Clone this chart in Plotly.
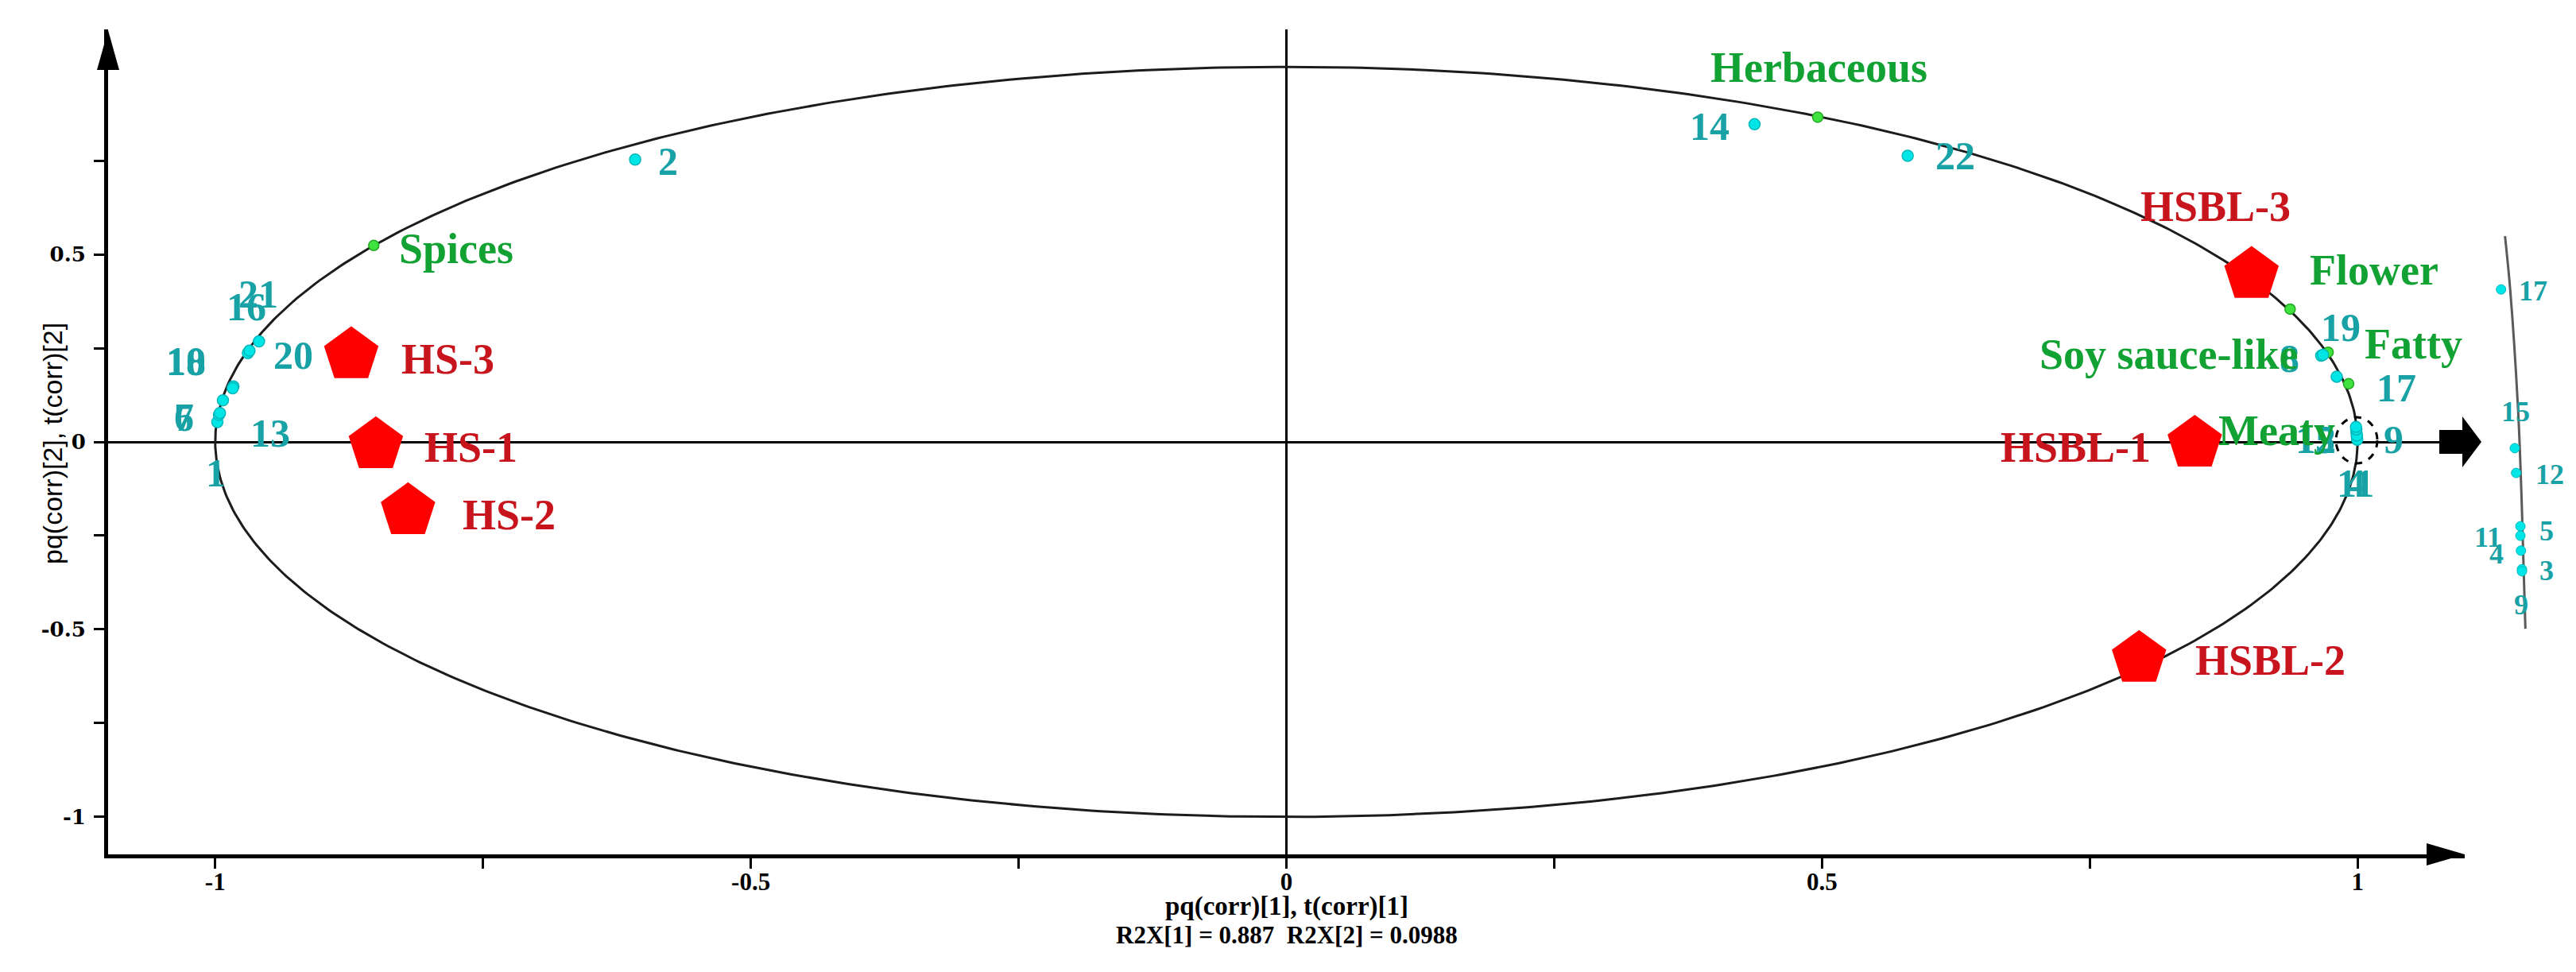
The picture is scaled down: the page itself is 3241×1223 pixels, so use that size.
import numpy as np
import plotly.graph_objects as go

# ---------------- data ----------------
# Variables (volatile compounds), loadings pq(corr)[1], pq(corr)[2]
var_ids = ["1", "2", "3", "4", "5", "6", "7", "8", "9", "10", "11",
           "12", "13", "14", "15", "16", "17", "18", "19", "20", "21", "22"]
var_x = [-0.998, -0.608, 0.9995, 0.9994, 0.9990, -0.9965, -0.9956, 0.966, 0.9996, -0.983, 0.9993,
         0.9988, -0.9928, 0.437, 0.9985, -0.9695, 0.9805, -0.9837, 0.9676, -0.968, -0.9591, 0.580]
var_y = [0.053, 0.753, 0.010, 0.014, 0.025, 0.072, 0.077, 0.230, 0.006, 0.148, 0.017,
         0.033, 0.111, 0.847, 0.040, 0.237, 0.174, 0.143, 0.232, 0.243, 0.268, 0.763]

# Sensory attributes
attr_names = ["Herbaceous", "Spices", "Flower", "Soy sauce-like", "Fatty", "Meaty"]
attr_x = [0.496, -0.852, 0.937, 0.9725, 0.9916, 0.9988]
attr_y = [0.866, 0.524, 0.354, 0.239, 0.155, 0.028]

# Samples (scores t(corr))
sample_names = ["HS-1", "HS-2", "HS-3", "HSBL-1", "HSBL-2", "HSBL-3"]
sample_x = [-0.850, -0.820, -0.873, 0.848, 0.796, 0.901]
sample_y = [-0.008, -0.184, 0.232, -0.004, -0.578, 0.446]

# Magnified inset of the dashed region (inset units)
inset_ids = ["17", "15", "12", "5", "11", "4", "3", "9"]
inset_x = [28.0, 41.2, 42.5, 46.6, 46.6, 47.1, 48.1, 48.1]
inset_y = [84.0, 45.6, 39.6, 26.7, 24.4, 20.8, 16.3, 15.8]
inset_curve_x = [31.8, 36.9, 44.5, 47.9, 51.4]
inset_curve_y = [96.9, 83.7, 54.2, 32.1, 1.9]

x_tick_vals = [-1, -0.75, -0.5, -0.25, 0, 0.25, 0.5, 0.75, 1]
x_tick_text = ["-1", "", "-0.5", "", "0", "", "0.5", "", "1"]
y_tick_vals = [-1, -0.75, -0.5, -0.25, 0, 0.25, 0.5, 0.75]
y_tick_text = ["-1", "", "-0.5", "", "0", "", "0.5", ""]

x_title = "pq(corr)[1], t(corr)[1]"
r2x_text = "R2X[1] = 0.887\u00a0\u00a0R2X[2] = 0.0988"
y_title = "pq(corr)[2], t(corr)[2]"

# ---------------- style / layout ----------------
W, H = 3241, 1223
ML, MT, MR, MB = 128, 29, 0, 156
PW, PH = W - ML - MR, H - MT - MB
MAIN_W = 2965
XR = [-1.1, 1.1]
YR = [-1.1, 1.1]

CYAN = "#00E6E6"
CYAN_EDGE = "#00B8BC"
TEAL = "#18A2A6"
GREEN_DOT = "#3FE23F"
GREEN_EDGE = "#22A822"
GREEN_TXT = "#12A234"
RED = "#FF0000"
RED_TXT = "#C8141C"
SERIF = "Liberation Serif"

var_shift = {"1": (-2, -64), "2": (41, -2), "4": (-2, -59), "6": (-44, -3), "7": (-45, -5),
             "8": (-40, -4), "9": (46, 0), "10": (-60, 32), "11": (-2, -60), "12": (-51, -13),
             "13": (60, -41), "14": (-56, -3), "15": (-51, -16), "16": (-2, 58), "17": (75, -14),
             "18": (-59, 34), "19": (22, 35), "20": (55, -6), "21": (-1, 60), "22": (60, 0)}
attr_shift = {"Herbaceous": (2, 62), "Spices": (104, -4), "Flower": (106, 49),
              "Soy sauce-like": (-200, -3), "Fatty": (82, 50), "Meaty": (-100, 1)}
sample_shift = {"HS-1": (120, -3), "HS-2": (127, -5), "HS-3": (122, -5),
                "HSBL-1": (-150, -5), "HSBL-2": (165, -2), "HSBL-3": (-45, 86)}
inset_shift = {"17": (40, -2), "15": (1, 46), "12": (42, -2), "5": (33, -6),
               "11": (-41, -2), "4": (-31, -4), "3": (31, -2), "9": (-1, -42)}


def pxx(xp):
    return (xp - ML) / PW


def pxy(yp):
    return (MT + PH - yp) / PH


fig = go.Figure()

# correlation circle (radius 1)
t = np.linspace(0, 2 * np.pi, 721)
fig.add_trace(go.Scatter(x=np.cos(t), y=np.sin(t), mode="lines",
                         line=dict(color="#1c1c1c", width=3), hoverinfo="skip", showlegend=False))

fig.add_trace(go.Scatter(x=attr_x, y=attr_y, mode="markers",
                         marker=dict(size=13, color=GREEN_DOT, line=dict(color=GREEN_EDGE, width=1.5)),
                         showlegend=False))
fig.add_trace(go.Scatter(x=var_x, y=var_y, mode="markers",
                         marker=dict(size=14, color=CYAN, line=dict(color=CYAN_EDGE, width=1.5)),
                         showlegend=False))
fig.add_trace(go.Scatter(x=sample_x, y=sample_y, mode="markers",
                         marker=dict(size=72, symbol="pentagon", color=RED, line=dict(width=0)),
                         showlegend=False))

# inset
fig.add_trace(go.Scatter(x=inset_curve_x, y=inset_curve_y, mode="lines", xaxis="x2", yaxis="y2",
                         line=dict(color="#5a5a5a", width=3, shape="spline"), showlegend=False))
fig.add_trace(go.Scatter(x=inset_x, y=inset_y, mode="markers", xaxis="x2", yaxis="y2",
                         marker=dict(size=12, color=CYAN, line=dict(color=CYAN_EDGE, width=1)),
                         showlegend=False))

ann = []
num_font = dict(family=SERIF, size=50, weight="bold")
word_font = dict(family=SERIF, size=54, weight="bold")
for i, name in enumerate(var_ids):
    if name in var_shift:
        dx, dy = var_shift[name]
        ann.append(dict(x=var_x[i], y=var_y[i], xref="x", yref="y", text=name, showarrow=False,
                        xshift=dx, yshift=dy, font=dict(num_font, color=TEAL)))
for i, name in enumerate(attr_names):
    dx, dy = attr_shift[name]
    ann.append(dict(x=attr_x[i], y=attr_y[i], xref="x", yref="y", text=name, showarrow=False,
                    xshift=dx, yshift=dy, font=dict(word_font, color=GREEN_TXT)))
for i, name in enumerate(sample_names):
    dx, dy = sample_shift[name]
    ann.append(dict(x=sample_x[i], y=sample_y[i], xref="x", yref="y", text=name, showarrow=False,
                    xshift=dx, yshift=dy, font=dict(word_font, color=RED_TXT)))
for i, name in enumerate(inset_ids):
    dx, dy = inset_shift[name]
    ann.append(dict(x=inset_x[i], y=inset_y[i], xref="x2", yref="y2", text=name, showarrow=False,
                    xshift=dx, yshift=dy, font=dict(family=SERIF, size=36, weight="bold", color=TEAL)))

# axis titles
ann.append(dict(x=0, y=pxy(1153), xref="x", yref="paper", text=x_title, showarrow=False,
                font=dict(family=SERIF, size=33, weight="bold", color="black")))
ann.append(dict(x=0, y=pxy(1188), xref="x", yref="paper", text=r2x_text, showarrow=False,
                font=dict(family=SERIF, size=31, weight="bold", color="black")))
ann.append(dict(x=pxx(37), y=pxy(550), xref="paper", yref="paper", text=y_title, showarrow=False,
                textangle=-90, font=dict(family="Liberation Sans", size=34, color="black")))

zero_y = MT + PH * (YR[1] - 0) / (YR[1] - YR[0])
x_end = ML + MAIN_W
shapes = [
    # dashed highlight
    dict(type="circle", xref="x", yref="y", x0=0.9991 - 0.0193, x1=0.9991 + 0.0193,
         y0=0.0042 - 0.0614, y1=0.0042 + 0.0614, line=dict(color="black", width=3, dash="dash")),
    # y axis arrowhead
    dict(type="path", xref="paper", yref="paper", fillcolor="black", line=dict(width=0),
         path=f"M {pxx(ML-14)} {pxy(80)} L {pxx(ML)} {pxy(30)} L {pxx(ML+14)} {pxy(80)} Z"),
    # x axis arrowhead
    dict(type="path", xref="paper", yref="paper", fillcolor="black", line=dict(width=0),
         path=f"M {pxx(x_end-48)} {pxy(MT+PH-14)} L {pxx(x_end)} {pxy(MT+PH)} L {pxx(x_end-48)} {pxy(MT+PH+14)} Z"),
    # block arrow at the end of the zero line
    dict(type="path", xref="paper", yref="paper", fillcolor="black", line=dict(width=0),
         path=(f"M {pxx(x_end-32)} {pxy(zero_y-15)} L {pxx(x_end-3)} {pxy(zero_y-15)} "
               f"L {pxx(x_end-3)} {pxy(zero_y-32)} L {pxx(x_end+21)} {pxy(zero_y)} "
               f"L {pxx(x_end-3)} {pxy(zero_y+32)} L {pxx(x_end-3)} {pxy(zero_y+15)} "
               f"L {pxx(x_end-32)} {pxy(zero_y+15)} Z")),
]

fig.update_layout(
    width=W, height=H, margin=dict(l=ML, r=MR, t=MT, b=MB, pad=0),
    paper_bgcolor="white", plot_bgcolor="white", showlegend=False,
    annotations=ann, shapes=shapes,
    xaxis=dict(domain=[0, MAIN_W / PW], range=XR, showgrid=False, zeroline=True,
               zerolinecolor="black", zerolinewidth=3, showline=True, linecolor="black", linewidth=5,
               ticks="outside", ticklen=13, tickwidth=3, tickcolor="black",
               tickvals=x_tick_vals, ticktext=x_tick_text, ticklabelstandoff=-10,
               tickfont=dict(family=SERIF, size=31, weight="bold", color="black")),
    yaxis=dict(domain=[0, 1], range=YR, showgrid=False, zeroline=True,
               zerolinecolor="black", zerolinewidth=3, showline=True, linecolor="black", linewidth=5,
               ticks="outside", ticklen=13, tickwidth=3, tickcolor="black",
               tickvals=y_tick_vals, ticktext=y_tick_text, ticklabelstandoff=5,
               tickfont=dict(family="DejaVu Serif", size=26, weight="bold", color="black")),
    xaxis2=dict(domain=[pxx(3102), pxx(3233)], range=[0, 100], visible=False, anchor="y2"),
    yaxis2=dict(domain=[pxy(793), pxy(273)], range=[0, 100], visible=False, anchor="x2"),
)

fig.write_html("out.html")
